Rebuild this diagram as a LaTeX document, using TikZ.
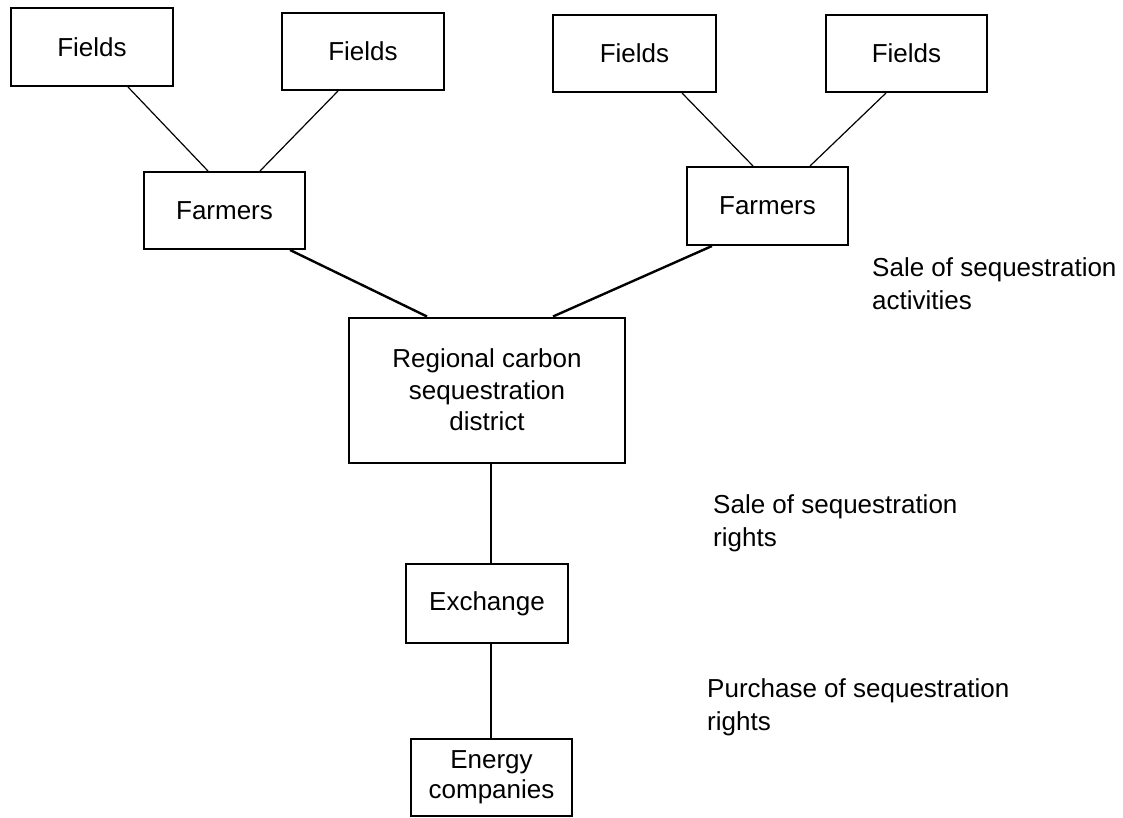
\documentclass[tikz,border=0pt]{standalone}
\usepackage{fontspec}
\setmainfont{Liberation Sans}
\begin{document}
\begin{tikzpicture}[x=1pt,y=-1pt,
  box/.style={draw=black,line width=2pt,inner sep=0pt,align=center,
    font=\fontsize{26}{31.5}\selectfont},
  lbl/.style={inner sep=0pt,align=left,anchor=north west,
    font=\fontsize{26}{33}\selectfont},
  thin/.style={line width=1.2pt},
  thick/.style={line width=2.4pt},
  vert/.style={line width=1.8pt}]
\useasboundingbox[fill=white] (0,0) rectangle (1123,817);
% boxes
\node[box,minimum width=162pt,minimum height=78pt] (f1) at (92,47) {Fields};
\node[box,minimum width=162pt,minimum height=77pt] (f2) at (363,51.5) {Fields};
\node[box,minimum width=163pt,minimum height=77pt] (f3) at (634.5,53.5) {Fields};
\node[box,minimum width=161pt,minimum height=77pt] (f4) at (906.5,53.5) {Fields};
\node[box,minimum width=161pt,minimum height=77pt] (fa1) at (224.5,210.5) {Farmers};
\node[box,minimum width=161pt,minimum height=78pt] (fa2) at (767.5,206) {Farmers};
\node[box,minimum width=276pt,minimum height=145pt] (reg) at (487,390) {Regional carbon\\sequestration\\district};
\node[box,minimum width=162pt,minimum height=79pt] (ex) at (487,603.5) {Exchange};
\node[box,minimum width=161pt,minimum height=77pt,font=\fontsize{26}{30}\selectfont] (en) at (491.5,777.5) {Energy\\companies};
% connectors
\draw[thin] ([xshift=36pt]f1.south) -- ([xshift=-16.5pt]fa1.north);
\draw[thin] ([xshift=-25pt]f2.south) -- ([xshift=35.5pt]fa1.north);
\draw[thin] ([xshift=47.5pt]f3.south) -- ([xshift=-14.5pt]fa2.north);
\draw[thin] ([xshift=-20.5pt]f4.south) -- ([xshift=42.5pt]fa2.north);
\draw[thick] ([xshift=65.5pt]fa1.south) -- ([xshift=-60pt]reg.north);
\draw[thick] ([xshift=-55.5pt]fa2.south) -- ([xshift=66pt]reg.north);
\draw[vert] ([xshift=4pt]reg.south) -- ([xshift=4pt]ex.north);
\draw[vert] ([xshift=4pt]ex.south) -- ([xshift=-0.5pt]en.north);
% labels
\node[lbl] (l1) at (872,257) {Sale of sequestration\\activities};
\node[lbl] (l2) at (713,494) {Sale of sequestration\\rights};
\node[lbl] (l3) at (707,678) {Purchase of sequestration\\rights};
\end{tikzpicture}
\end{document}
